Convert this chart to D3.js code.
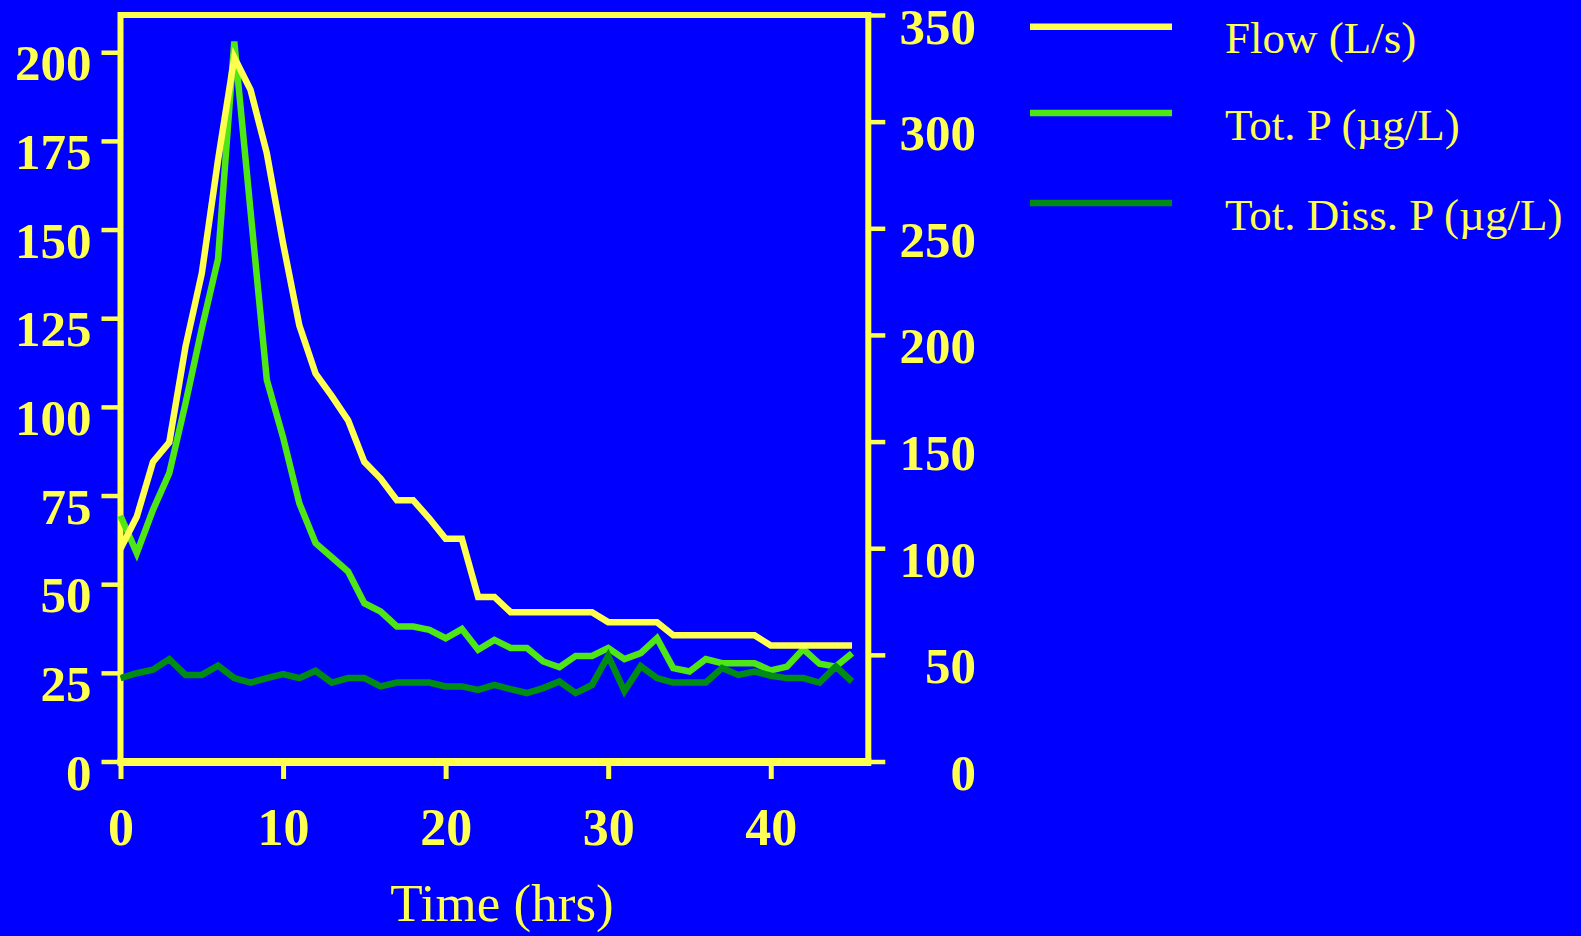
<!DOCTYPE html>
<html>
<head>
<meta charset="utf-8">
<script src="https://cdn.jsdelivr.net/npm/d3@7/dist/d3.min.js"></script>
<style>
  html, body { margin: 0; padding: 0; background: #0000FF; }
  svg { display: block; }
  text { font-family: "Liberation Serif", "Times New Roman", serif; fill: #FFFF50; }
</style>
</head>
<body>
<svg id="chart" width="1581" height="936"></svg>
<script>
// ---- data ----
const timeHrs = [0,1,2,3,4,5,6,7,8,9,10,11,12,13,14,15,16,17,18,19,20,21,22,23,24,25,26,27,28,29,30,31,32,33,34,35,36,37,38,39,40,41,42,43,44,45];
const flowLs = [60,69,84.5,90,117,137.6,169.6,198.5,189.4,171.5,146.1,123,109.4,103,96.2,84.5,79.8,73.7,73.7,68.5,62.8,62.8,46.4,46.4,42.1,42.1,42.1,42.1,42.1,42.1,39.3,39.3,39.3,39.3,35.6,35.6,35.6,35.6,35.6,35.6,32.7,32.7,32.7,32.7,32.7,32.7];
const totP = [115.2,97.7,118,135.2,168,203,235.6,337.6,258,178.9,152,121.1,102.4,95.8,89.1,74.2,70.3,63.3,63.3,61.7,57.8,62.1,52.4,57,53.2,53.2,46.9,44.2,49.5,49.5,53.2,48,50.8,57.8,43.8,42.2,48,46.1,46.1,46.1,42.7,44.5,52.7,45.8,44.5,50.8];
const totDissP = [39.1,41.4,43,48,40.6,40.6,44.9,39.1,37,39.1,41,39.1,42.5,37,39.1,39.1,35.2,37,37,37,35.2,35.2,33.6,35.9,33.9,32.1,34.4,37.5,32.1,35.9,49.5,33,44.7,39.1,37,37,37,43.8,40.6,42.2,40.2,39.1,39.1,37,44.5,37.5];
const leftTicks = [0,25,50,75,100,125,150,175,200];
const rightTicks = [0,50,100,150,200,250,300,350];
const xTicks = [0,10,20,30,40];
const legendLabels = ["Flow (L/s)", "Tot. P (\u00b5g/L)", "Tot. Diss. P (\u00b5g/L)"];
const xTitle = "Time (hrs)";

const YELLOW = "#FFFF50", LGREEN = "#4EE614", DGREEN = "#008C14";

const svg = d3.select("#chart");
const L = 120.5, R = 868.3, T = 15, B = 761.5;

const x = d3.scaleLinear().domain([0, 46]).range([L, R]);
const yL = d3.scaleLinear().domain([0, 210.5]).range([B, T]);
const yR = d3.scaleLinear().domain([0, 350]).range([B, T]);

// frame
svg.append("rect").attr("x", L).attr("y", T).attr("width", R - L).attr("height", B - T)
  .attr("fill", "none").attr("stroke", YELLOW).attr("stroke-width", 6);
svg.append("line").attr("x1", L - 3).attr("x2", R + 3).attr("y1", B + 0.5).attr("y2", B + 0.5)
  .attr("stroke", YELLOW).attr("stroke-width", 8);

// series
const mk = (ys, yScale) => d3.line().x((d, i) => x(timeHrs[i])).y(d => yScale(d))(ys);
const series = [
  {vals: totP, scale: yR, color: LGREEN},
  {vals: totDissP, scale: yR, color: DGREEN},
  {vals: flowLs, scale: yL, color: YELLOW}
];
series.forEach(s => {
  svg.append("path").attr("d", mk(s.vals, s.scale)).attr("fill", "none")
    .attr("stroke", s.color).attr("stroke-width", 6.5)
    .attr("stroke-linejoin", "miter").attr("stroke-linecap", "butt");
});

// axes
function styleAxis(g, tw) {
  g.select(".domain").remove();
  g.selectAll(".tick line").attr("stroke", YELLOW).attr("stroke-width", tw);
  g.selectAll(".tick text").attr("fill", YELLOW).style("font-weight", "bold")
    .style("font-family", '"Liberation Serif", "Times New Roman", serif');
}
const gl = svg.append("g").attr("transform", `translate(${L},0)`)
  .call(d3.axisLeft(yL).tickValues(leftTicks).tickSize(19).tickFormat(d3.format("d")));
styleAxis(gl, 4.5);
gl.selectAll(".tick text").attr("x", -29).attr("dy", null).attr("y", 27.7)
  .attr("text-anchor", "end").style("font-size", "51px");

const gr = svg.append("g").attr("transform", `translate(${R},0)`)
  .call(d3.axisRight(yR).tickValues(rightTicks).tickSize(17).tickFormat(d3.format("d")));
styleAxis(gr, 4.5);
gr.selectAll(".tick text").attr("x", 107.7).attr("dy", null).attr("y", 28)
  .attr("text-anchor", "end").style("font-size", "51px");

const gb = svg.append("g").attr("transform", `translate(0,${B})`)
  .call(d3.axisBottom(x).tickValues(xTicks).tickSize(17.5).tickFormat(d3.format("d")));
styleAxis(gb, 5);
gb.selectAll(".tick text").attr("dy", null).attr("y", 83.5)
  .attr("text-anchor", "middle").style("font-size", "52px");

// x title
svg.append("text").attr("x", 502).attr("y", 921).attr("text-anchor", "middle")
  .style("font-size", "53px").text(xTitle);

// legend
const legColors = [YELLOW, LGREEN, DGREEN];
const legY = [26.7, 113, 203];
legendLabels.forEach((lab, i) => {
  svg.append("line").attr("x1", 1030).attr("x2", 1172).attr("y1", legY[i]).attr("y2", legY[i])
    .attr("stroke", legColors[i]).attr("stroke-width", 6.5);
  svg.append("text").attr("x", 1225).attr("y", legY[i] + 26.5)
    .style("font-size", "45px").text(lab);
});
</script>
</body>
</html>
